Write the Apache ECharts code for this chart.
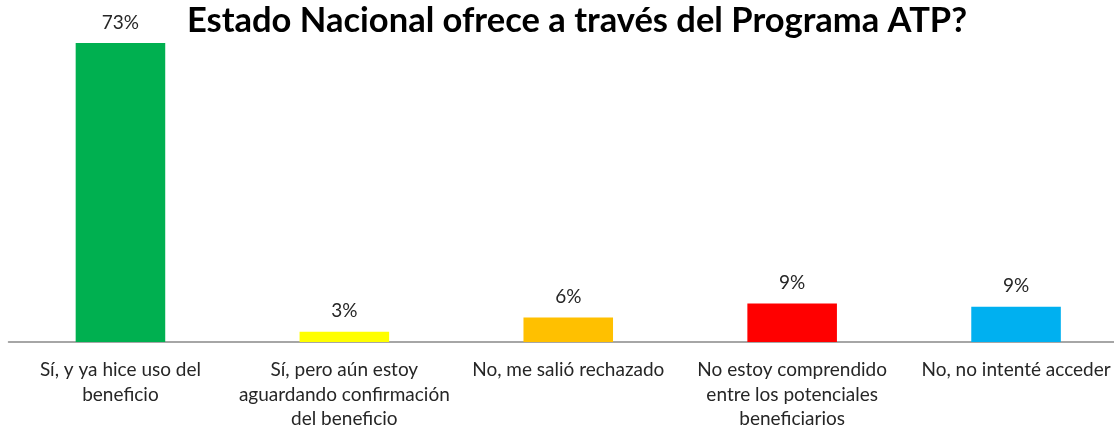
<!DOCTYPE html>
<html>
<head>
<meta charset="utf-8">
<script src="https://cdn.jsdelivr.net/npm/echarts@6/dist/echarts.min.js"></script>
<style>
html,body{margin:0;padding:0;background:#fff;}
#chart{width:1114px;height:426px;}
</style>
</head>
<body>
<div id="chart"></div>
<script>
const title = "Estado Nacional ofrece a través del Programa ATP?";
const categories = [
  "Sí, y ya hice uso del\nbeneficio",
  "Sí, pero aún estoy\naguardando confirmación\ndel beneficio",
  "No, me salió rechazado",
  "No estoy comprendido\nentre los potenciales\nbeneficiarios",
  "No, no intenté acceder"
];
const values = [73, 2.5, 6.0, 9.4, 8.6];
const colors = ["#00B050", "#FFFF00", "#FFC000", "#FF0000", "#00B0F0"];

const chart = echarts.init(document.getElementById('chart'));
chart.setOption({
  animation: false,
  backgroundColor: '#ffffff',
  title: {
    text: title,
    left: 572,
    textAlign: 'center',
    top: -2,
    textStyle: {fontFamily: 'Lato', fontWeight: 'bold', fontSize: 34.5, color: '#000000'}
  },
  grid: {left: 8.5, right: -14, top: 14.3, bottom: 84, containLabel: false, outerBoundsMode: 'none'},
  xAxis: {
    type: 'category',
    data: categories,
    axisLine: {lineStyle: {color: '#898989', width: 1.5}},
    axisTick: {show: false},
    axisLabel: {
      interval: 0,
      margin: 16,
      fontFamily: 'Lato',
      fontSize: 19,
      lineHeight: 24.5,
      color: '#262626'
    }
  },
  yAxis: {
    type: 'value',
    min: 0,
    max: 80,
    show: false,
    splitLine: {show: false}
  },
  series: [{
    type: 'bar',
    barWidth: '40%',
    data: values.map((v, i) => ({value: v, itemStyle: {color: colors[i]}})),
    label: {
      show: true,
      position: 'top',
      distance: 11,
      fontFamily: 'Lato',
      fontSize: 19,
      color: '#262626',
      formatter: p => Math.round(p.value) + '%'
    }
  }]
});
</script>
</body>
</html>
